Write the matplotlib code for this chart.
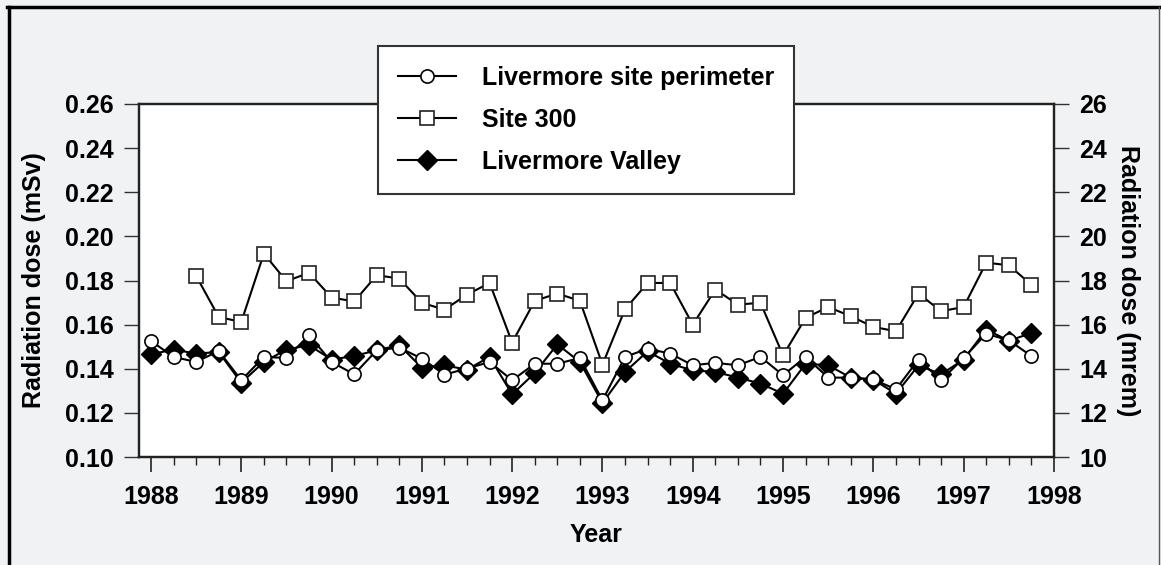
import matplotlib.pyplot as plt
from matplotlib.lines import Line2D
from matplotlib.ticker import MultipleLocator

plt.rcParams['font.family'] = ['Liberation Sans', 'DejaVu Sans']
plt.rcParams['font.weight'] = 'bold'

# quarterly sampling dates
quarters = [1988.0, 1988.25, 1988.5, 1988.75, 1989.0, 1989.25, 1989.5, 1989.75,
            1990.0, 1990.25, 1990.5, 1990.75, 1991.0, 1991.25, 1991.5, 1991.75,
            1992.0, 1992.25, 1992.5, 1992.75, 1993.0, 1993.25, 1993.5, 1993.75,
            1994.0, 1994.25, 1994.5, 1994.75, 1995.0, 1995.25, 1995.5, 1995.75,
            1996.0, 1996.25, 1996.5, 1996.75, 1997.0, 1997.25, 1997.5, 1997.75]

# Livermore site perimeter (mSv)
perimeter = [0.1526, 0.1454, 0.1431, 0.1481, 0.1348, 0.1454, 0.1449, 0.1552,
             0.1431, 0.1375, 0.1484, 0.1496, 0.1446, 0.1374, 0.1401, 0.1431,
             0.1348, 0.1423, 0.1423, 0.1449, 0.1257, 0.1454, 0.1491, 0.1469,
             0.1416, 0.1427, 0.1416, 0.1454, 0.1371, 0.1454, 0.1360, 0.1360,
             0.1352, 0.1307, 0.1442, 0.1348, 0.1449, 0.1559, 0.1529, 0.1458]

# Site 300 starts mid-1988
site300_quarters = quarters[2:]
site300 = [0.1821, 0.1635, 0.1612, 0.1922, 0.1797, 0.1835,
           0.1723, 0.1705, 0.1824, 0.1809, 0.1699, 0.1668, 0.1736, 0.1789,
           0.1519, 0.1708, 0.1741, 0.1708, 0.1419, 0.1670, 0.1789, 0.1789,
           0.1600, 0.1759, 0.1691, 0.1699, 0.1461, 0.1631, 0.1680, 0.1638,
           0.1590, 0.1570, 0.1741, 0.1661, 0.1680, 0.1881, 0.1869, 0.1781]

# Livermore Valley (mSv)
valley = [0.1466, 0.1487, 0.1469, 0.1476, 0.1337, 0.1431, 0.1487, 0.1507,
          0.1442, 0.1458, 0.1484, 0.1507, 0.1405, 0.1416, 0.1396, 0.1454,
          0.1284, 0.1381, 0.1511, 0.1431, 0.1245, 0.1386, 0.1479, 0.1423,
          0.1393, 0.1386, 0.1360, 0.1333, 0.1287, 0.1423, 0.1416, 0.1360,
          0.1351, 0.1287, 0.1416, 0.1375, 0.1442, 0.1578, 0.1527, 0.1562]

fs = 18
bg = '#f1f2f4'
fig = plt.figure(figsize=(11.61, 5.65), dpi=100, facecolor=bg)
ax = fig.add_axes([0.1197, 0.191, 0.7881, 0.625])
ax.set_facecolor('white')

l2, = ax.plot(site300_quarters, site300, color='black', lw=1.5, marker='s', ms=10.5,
              mfc='white', mec='#222222', mew=1.2, zorder=3)
l3, = ax.plot(quarters, valley, color='black', lw=1.5, marker='D', ms=10,
              mfc='black', mec='black', mew=1.0, zorder=4)
l1, = ax.plot(quarters, perimeter, color='black', lw=1.5, marker='o', ms=9.5,
              mfc='white', mec='black', mew=1.2, zorder=5)

ax.set_xlim(1987.867, 1998)
ax.set_ylim(0.10, 0.26)
ax.xaxis.set_major_locator(MultipleLocator(1))
ax.xaxis.set_minor_locator(MultipleLocator(0.25))
ax.yaxis.set_major_locator(MultipleLocator(0.02))
ax.yaxis.set_major_formatter(plt.FormatStrFormatter('%.2f'))
ax.tick_params(axis='x', which='major', direction='out', length=11, width=1.2,
               labelsize=fs, pad=9, color='#222222')
ax.tick_params(axis='x', which='minor', direction='out', length=5.5, width=1.0,
               color='#222222')
ax.tick_params(axis='y', direction='out', length=11, width=1.0, labelsize=fs,
               pad=7, color='#333333')
for s in ax.spines.values():
    s.set_linewidth(1.6)
    s.set_color('#222222')

ax.set_xlabel('Year', fontsize=fs, fontweight='bold', labelpad=10)
ax.set_ylabel('Radiation dose (mSv)', fontsize=fs, fontweight='bold', labelpad=14)

ax2 = ax.twinx()
ax2.set_ylim(10, 26)
ax2.yaxis.set_major_locator(MultipleLocator(2))
ax2.tick_params(axis='y', direction='out', length=11, width=1.0, labelsize=fs,
                pad=7, color='#333333')
for s in ax2.spines.values():
    s.set_linewidth(1.6)
    s.set_color('#222222')
ax2.set_ylabel('Radiation dose (mrem)', fontsize=fs, fontweight='bold',
               rotation=270, labelpad=24)

leg = ax2.legend([l1, l2, l3], ['Livermore site perimeter', 'Site 300', 'Livermore Valley'],
                 loc='upper left', bbox_to_anchor=(378 / 1161, 1 - 46 / 565),
                 bbox_transform=fig.transFigure, fontsize=fs, frameon=True,
                 fancybox=False, framealpha=1, edgecolor='#333333',
                 handlelength=2.3, handletextpad=1.05, labelspacing=0.72,
                 borderpad=0.8, borderaxespad=0)
leg.get_frame().set_linewidth(1.5)
for t in leg.get_texts():
    t.set_fontweight('bold')

# outer frame of the figure
fig.add_artist(Line2D([8.5 / 1161, 8.5 / 1161], [0, 1 - 6.5 / 565], color='black',
                      lw=2.5, transform=fig.transFigure))
fig.add_artist(Line2D([7 / 1161, 1], [1 - 6.5 / 565, 1 - 6.5 / 565], color='black',
                      lw=2.5, transform=fig.transFigure))
fig.add_artist(Line2D([1159 / 1161, 1159 / 1161], [0, 1 - 6.5 / 565], color='#555555',
                      lw=1.0, transform=fig.transFigure))

fig.savefig('out.png', dpi=100, facecolor=bg)
